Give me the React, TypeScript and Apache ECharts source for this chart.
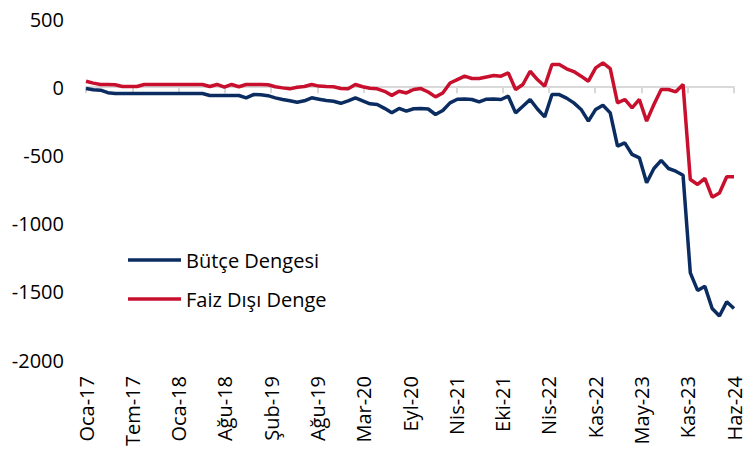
import React, { useEffect, useRef } from "react";
import * as echarts from "echarts";

const tickLabels = [
  "Oca-17", "Tem-17", "Oca-18", "Ağu-18", "Şub-19", "Ağu-19", "Mar-20", "Eyl-20",
  "Nis-21", "Eki-21", "Nis-22", "Kas-22", "May-23", "Kas-23", "Haz-24",
];

// Monthly, Oca-17 .. Haz-24 (90 months)
const butceDengesi = [
  -10, -18, -22, -40, -46, -46, -46, -46, -46, -46,
  -46, -46, -46, -46, -46, -46, -46, -61, -61, -61,
  -61, -61, -78, -54, -56, -62, -78, -90, -100, -110,
  -100, -78, -88, -98, -103, -118, -100, -78, -100, -122,
  -127, -155, -188, -156, -176, -158, -156, -160, -200, -171,
  -115, -88, -86, -90, -108, -88, -86, -90, -66, -188,
  -140, -90, -160, -218, -54, -54, -80, -115, -163, -249,
  -163, -132, -188, -432, -408, -493, -518, -701, -596, -537,
  -596, -616, -645, -1361, -1490, -1460, -1622, -1678, -1573, -1622,
];

const faizDisiDenge = [
  44, 30, 20, 20, 18, 5, 5, 5, 20, 20,
  20, 20, 20, 20, 20, 20, 20, 5, 20, 0,
  20, 3, 20, 20, 20, 18, 3, -5, -12, 0,
  5, 20, 8, 5, 3, -10, -12, 20, 3, -8,
  -12, -30, -60, -30, -42, -17, -10, -35, -71, -42,
  31, 56, 81, 64, 64, 75, 86, 81, 105, -17,
  20, 117, 56, 7, 166, 166, 135, 115, 81, 44,
  142, 178, 137, -115, -90, -152, -90, -249, -127, -17,
  -17, -34, 20, -677, -713, -669, -806, -775, -657, -657,
];

const FONT = "'Open Sans', 'Noto Sans', sans-serif";
const LINE_ICON = "path://M0,0 L53,0 L53,3.5 L0,3.5 Z";

export default function App() {
  const ref = useRef<HTMLDivElement>(null);

  useEffect(() => {
    if (!ref.current) return;
    const chart = echarts.init(ref.current, null, { renderer: "svg" });
    const n = butceDengesi.length;
    const span = tickLabels.length - 1;
    const toX = (i: number) => (i * span) / (n - 1);

    chart.setOption({
      animation: false,
      backgroundColor: "#ffffff",
      grid: { left: 86, right: 13, top: 19, bottom: 94, containLabel: false },
      legend: {
        orient: "vertical",
        left: 128,
        top: 250,
        padding: 0,
        itemWidth: 53,
        itemHeight: 20,
        itemGap: 19,
        icon: LINE_ICON,
        textStyle: { fontFamily: FONT, fontSize: 20, color: "#000" },
        data: ["Bütçe Dengesi", "Faiz Dışı Denge"],
      },
      xAxis: [
        {
          type: "value",
          min: 0,
          max: span,
          interval: 1,
          position: "bottom",
          axisLine: { show: false, onZero: false },
          axisTick: { show: false },
          splitLine: { show: false },
          axisLabel: {
            rotate: 90,
            margin: 16,
            fontFamily: FONT,
            fontSize: 20,
            color: "#000",
            formatter: (v: number) => tickLabels[Math.round(v)] ?? "",
          },
        },
        {
          type: "value",
          min: 0,
          max: span,
          interval: 1,
          position: "bottom",
          axisLine: { show: true, onZero: true, lineStyle: { color: "#d9d9d9", width: 2 } },
          axisTick: { show: true, length: 6, lineStyle: { color: "#d9d9d9", width: 2 } },
          axisLabel: { show: false },
          splitLine: { show: false },
        },
      ],
      yAxis: {
        type: "value",
        min: -2000,
        max: 500,
        interval: 500,
        axisLine: { show: false },
        axisTick: { show: false },
        splitLine: { show: false },
        axisLabel: {
          margin: 22,
          fontFamily: FONT,
          fontSize: 20,
          color: "#000",
          formatter: (v: number) => String(v),
        },
      },
      series: [
        {
          name: "Bütçe Dengesi",
          type: "line",
          xAxisIndex: 0,
          symbol: "none",
          lineStyle: { color: "#0b2c61", width: 3.5 },
          itemStyle: { color: "#0b2c61" },
          data: butceDengesi.map((v, i) => [toX(i), v]),
          z: 3,
        },
        {
          name: "Faiz Dışı Denge",
          type: "line",
          xAxisIndex: 0,
          symbol: "none",
          lineStyle: { color: "#c8102e", width: 3.5 },
          itemStyle: { color: "#c8102e" },
          data: faizDisiDenge.map((v, i) => [toX(i), v]),
          z: 2,
        },
      ],
    });
    return () => chart.dispose();
  }, []);

  return (
    <div
      ref={ref}
      style={{ position: "fixed", left: 0, top: 0, width: 747, height: 454 }}
    />
  );
}
